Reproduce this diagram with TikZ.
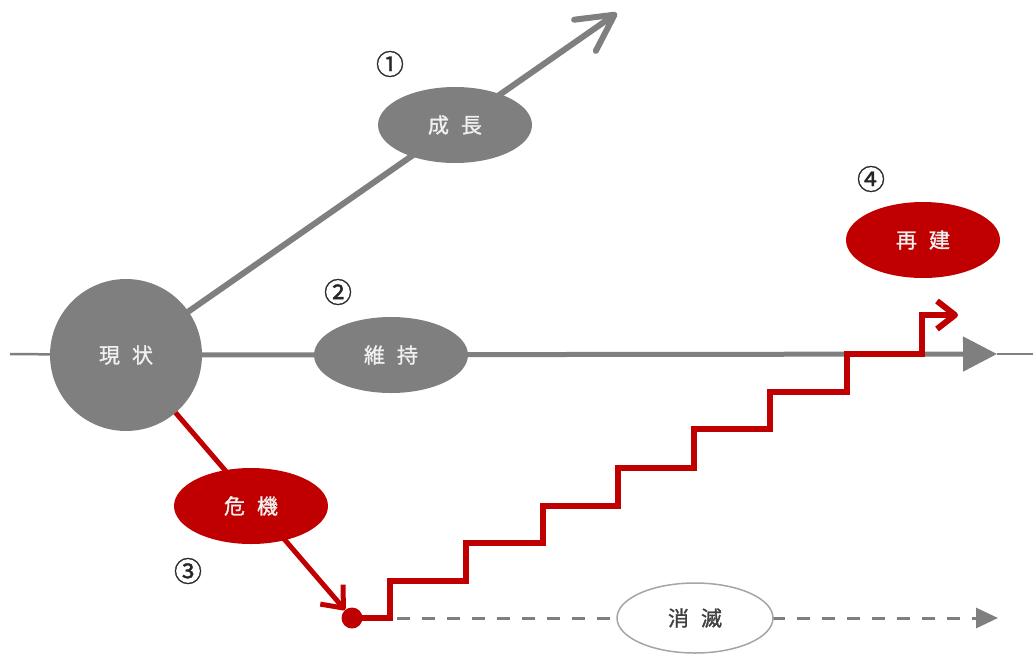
\documentclass[tikz,border=0pt]{standalone}
\usepackage{fontspec}
\setmainfont{Noto Sans CJK JP}
\newfontfamily\lblfont{Noto Sans CJK JP}[FakeBold=1.2]
\usetikzlibrary{arrows.meta,shapes.geometric,backgrounds}
\definecolor{cgray}{HTML}{7F7F7F}
\definecolor{cred}{HTML}{C00000}
\definecolor{clabel}{HTML}{F0F0F0}
\begin{document}
\begin{tikzpicture}[x=1pt,y=-1pt,
  txt/.style={font=\lblfont\fontsize{21}{24}\selectfont},
  gcirc/.style={circle,fill=cgray,minimum size=152pt,inner sep=0pt,text=clabel,txt},
  gell/.style={ellipse,fill=cgray,minimum width=154pt,minimum height=76pt,inner sep=0pt,text=clabel,txt},
  rell/.style={ellipse,fill=cred,minimum width=154pt,minimum height=76pt,inner sep=0pt,text=clabel,txt},
  well/.style={ellipse,fill=white,draw=cgray!70,line width=1.5pt,minimum width=156pt,minimum height=70pt,inner sep=0pt,text=black!75,txt},
  reddot/.style={circle,fill=cred,minimum size=21pt,inner sep=0pt},
  num/.style={font=\lblfont\fontsize{28}{30}\selectfont,text=black!85,inner sep=0pt},
  gthick/.style={draw=cgray,line width=6pt},
  gmain/.style={draw=cgray,line width=5pt},
  gthin/.style={draw=cgray,line width=2.5pt},
  rline/.style={draw=cred,line width=6pt},
  gdash/.style={draw=cgray,line width=3pt,dash pattern=on 13pt off 12pt}
]
\useasboundingbox (0,0) rectangle (1033,656);

% nodes
\node[gcirc] (genjo) at (126,355) {現\hspace{12pt}状};
\node[gell] (seicho) at (455,125) {成\hspace{12pt}長};
\node[gell] (iji) at (391,355) {維\hspace{12pt}持};
\node[rell] (kiki) at (251,506) {危\hspace{12pt}機};
\node[rell] (saiken) at (923,240) {再\hspace{12pt}建};
\node[well] (shometsu) at (695,618) {消\hspace{12pt}滅};
\node[reddot] (dot) at (352,618) {};

\node[num] (n1) at (390,64) {①};
\node[num] (n2) at (338,292) {②};
\node[num] (n3) at (188,571) {③};
\node[num] (n4) at (871,179) {④};

\coordinate (tip1) at (617,13);
\coordinate (ledge) at (10,354);
\coordinate (hend) at (997,354);
\coordinate (redge) at (1033,354);
\coordinate (dstart) at (397,618);
\coordinate (dend) at (998,618);
\coordinate (rtip) at (958,315);

\begin{scope}[on background layer]
  % growth
  \draw[gthick,line cap=round,line join=round,-{Straight Barb[length=36pt,width=38pt,line cap=round,line join=round]}] (genjo.center) -- (tip1);
  % main line
  \draw[gthin] (ledge) -- (genjo.center);
  \draw[gmain,-{Triangle[length=34pt,width=34pt]}] (genjo.center) -- (hend);
  \draw[gthin] (hend) -- (redge);
  % dashed line
  \draw[gdash,-{Triangle[length=22pt,width=20pt]}] (dstart) -- (dend);
  % crisis
  \draw[draw=cred,line width=5pt,-{Straight Barb[length=18pt,width=30pt,line join=round]}] (genjo.center) -- (dot);
  % staircase
  \draw[rline,line join=miter,-{Straight Barb[length=18pt,width=28pt,line join=round]}]
    (dot.center) -- (390,618) |- (466,581) |- (543,543) |- (618,506) |- (694,468)
    |- (770,429) |- (847,392) |- (922,354) |- (rtip);
\end{scope}
\end{tikzpicture}
\end{document}
